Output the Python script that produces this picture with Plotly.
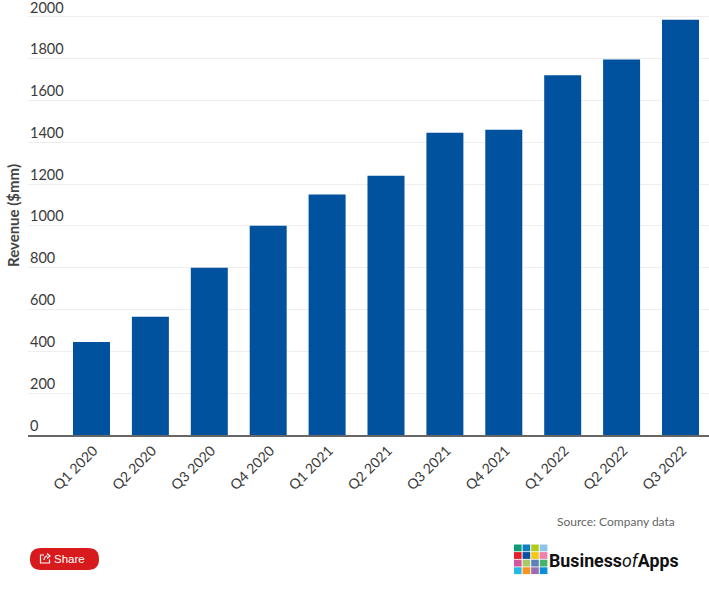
import plotly.graph_objects as go

W = 709
H = 589

quarters = ["Q1 2020", "Q2 2020", "Q3 2020", "Q4 2020", "Q1 2021", "Q2 2021",
            "Q3 2021", "Q4 2021", "Q1 2022", "Q2 2022", "Q3 2022"]
revenue = [445, 565, 800, 1000, 1150, 1240, 1445, 1460, 1720, 1795, 1985]
y_ticks = [0, 200, 400, 600, 800, 1000, 1200, 1400, 1600, 1800, 2000]

logo_colors = [
    ["#0f9b76", "#1080c4", "#b3cc1a", "#8fc4ea"],
    ["#e0202c", "#0b4ea2", "#f5c915", "#f07fb0"],
    ["#d1559f", "#a8c96a", "#5f7fb8", "#45b36b"],
    ["#25b8e8", "#f7941d", "#9a6db0", "#0a8fd6"],
]


# page pixels -> paper coords (margins are zero so paper is the whole page)
def px(x):
    return x / W


def py(y):
    return 1 - y / H


fig = go.Figure()
fig.add_trace(go.Bar(
    x=list(range(len(quarters))),
    y=revenue,
    marker=dict(color="#00519e", line=dict(width=0)),
    width=0.628,
    hoverinfo="skip",
))

shapes = []
# logo squares
for r, row in enumerate(logo_colors):
    for c, col in enumerate(row):
        x0 = 514 + c * 8.6
        y0 = 544.5 + r * 7.6
        shapes.append(dict(type="rect", xref="paper", yref="paper", layer="above",
                           x0=px(x0), x1=px(x0 + 7.6), y0=py(y0), y1=py(y0 + 6.8),
                           fillcolor=col, line=dict(width=0)))

# share button
btn_l, btn_r, btn_t, btn_b, rad = 30, 99, 548, 570, 11
btn_path = (
    f"M {px(btn_l + rad)} {py(btn_t)} L {px(btn_r - rad)} {py(btn_t)} "
    f"Q {px(btn_r)} {py(btn_t)} {px(btn_r)} {py(btn_t + rad)} "
    f"Q {px(btn_r)} {py(btn_b)} {px(btn_r - rad)} {py(btn_b)} "
    f"L {px(btn_l + rad)} {py(btn_b)} "
    f"Q {px(btn_l)} {py(btn_b)} {px(btn_l)} {py(btn_t + rad)} "
    f"Q {px(btn_l)} {py(btn_t)} {px(btn_l + rad)} {py(btn_t)} Z"
)
shapes.append(dict(type="path", xref="paper", yref="paper", path=btn_path,
                   fillcolor="#d71a1c", line=dict(width=0)))
# share icon
icon = (
    f"M {px(44)} {py(555)} L {px(40.5)} {py(555)} L {px(40.5)} {py(563)} "
    f"L {px(49.5)} {py(563)} L {px(49.5)} {py(559.5)} "
    f"M {px(44)} {py(560)} Q {px(44.5)} {py(556)} {px(47.5)} {py(556)} "
    f"M {px(47)} {py(553.5)} L {px(50)} {py(556)} L {px(47)} {py(558.5)}"
)
shapes.append(dict(type="path", xref="paper", yref="paper", path=icon,
                   line=dict(color="#ffffff", width=1.2)))

annotations = [
    dict(text="Revenue ($mm)", x=px(13), y=py(216), xref="paper", yref="paper",
         xanchor="center", yanchor="middle", textangle=-90, showarrow=False,
         font=dict(family="Lato", size=15, color="#444444", weight="bold")),
    dict(text="Source: Company data", x=px(677), y=py(521), xref="paper", yref="paper",
         xanchor="right", yanchor="middle", showarrow=False,
         font=dict(family="Lato", size=12, color="#666666")),
    dict(text="Share", x=px(69.5), y=py(559), xref="paper", yref="paper",
         xanchor="center", yanchor="middle", showarrow=False,
         font=dict(family="Liberation Sans", size=11.5, color="#ffffff")),
    dict(text="<b>Business</b><i>of</i><b>Apps</b>", x=px(681), y=py(560), xref="paper",
         yref="paper", xanchor="right", yanchor="middle", showarrow=False,
         font=dict(family="Roboto", size=17.8, color="#111111")),
]

# y labels sit on top of the gridlines; as axis labels the 2000 one gets dropped
for v in y_ticks:
    annotations.append(dict(text=str(v), x=px(27.5), y=v, xref="paper", yref="y",
                            xanchor="left", yanchor="bottom", showarrow=False,
                            yshift=-1.5 if v == y_ticks[-1] else -0.5,
                            font=dict(family="Lato", size=14.5, color="#3a3a3a")))

fig.update_layout(
    width=W,
    height=H,
    margin=dict(l=0, r=0, t=0, b=0),
    paper_bgcolor="#ffffff",
    plot_bgcolor="#ffffff",
    showlegend=False,
    shapes=shapes,
    annotations=annotations,
    xaxis=dict(
        domain=[px(28), 1],
        range=[-1.078, 10.484],
        tickvals=list(range(len(quarters))),
        ticktext=quarters,
        tickangle=-45,
        ticklabelshift=2,
        ticks="",
        showgrid=False,
        showline=True,
        linecolor="#666666",
        linewidth=2,
        zeroline=False,
        tickfont=dict(family="Lato", size=14, color="#3a3a3a"),
    ),
    yaxis=dict(
        domain=[py(435), 1],
        range=[0, 2080],
        tickvals=y_ticks,
        showticklabels=False,
        ticks="",
        showgrid=True,
        gridcolor="#eeeeee",
        gridwidth=1,
        zeroline=False,
        showline=False,
    ),
)

fig.write_html("out.html", config=dict(displayModeBar=False),
               post_script="document.body.style.margin='0';")
